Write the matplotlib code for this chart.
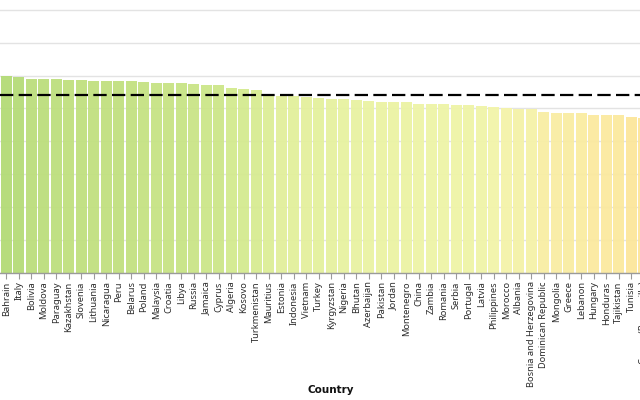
import matplotlib
matplotlib.use("Agg")
import matplotlib.pyplot as plt
from matplotlib import colors as mcolors
from matplotlib import transforms as mtransforms

countries = ["Bahrain", "Italy", "Bolivia", "Moldova", "Paraguay", "Kazakhstan", "Slovenia",
             "Lithuania", "Nicaragua", "Peru", "Belarus", "Poland", "Malaysia", "Croatia",
             "Libya", "Russia", "Jamaica", "Cyprus", "Algeria", "Kosovo", "Turkmenistan",
             "Mauritius", "Estonia", "Indonesia", "Vietnam", "Turkey", "Kyrgyzstan", "Nigeria",
             "Bhutan", "Azerbaijan", "Pakistan", "Jordan", "Montenegro", "China", "Zambia",
             "Romania", "Serbia", "Portugal", "Latvia", "Philippines", "Morocco", "Albania",
             "Bosnia and Herzegovina", "Dominican Republic", "Mongolia", "Greece", "Lebanon",
             "Hungary", "Honduras", "Tajikistan", "Tunisia", "Congo (Brazzaville)", "Ivory Coast"]
scores = [6.00, 5.97, 5.90, 5.90, 5.89, 5.86, 5.86, 5.85, 5.85, 5.85,
          5.83, 5.81, 5.79, 5.78, 5.77, 5.74, 5.71, 5.70, 5.61, 5.60,
          5.55, 5.45, 5.38, 5.37, 5.35, 5.33, 5.30, 5.28, 5.27, 5.22,
          5.21, 5.21, 5.21, 5.14, 5.13, 5.13, 5.12, 5.11, 5.09, 5.05,
          5.00, 4.98, 4.97, 4.89, 4.87, 4.86, 4.85, 4.81, 4.80, 4.79,
          4.74, 4.72, 4.70]
mean_score = 5.42

# colour scale, low score -> high score
scale_colors = ["#fde59a", "#f9eda3", "#f3f4aa", "#edf4a6", "#e3f09c", "#d4ea8f", "#c5e283", "#b3db76"]
scale_stops = [0.0, 0.12, 0.23, 0.35, 0.5, 0.69, 0.85, 1.0]

fig = plt.figure(figsize=(6.4, 4), dpi=100)
# the view is a crop of a wider chart: the axes run past the right and top edges
ax = fig.add_axes([0, 127 / 400, 662.5 / 640, 329 / 400])

cmap = mcolors.LinearSegmentedColormap.from_list("score", list(zip(scale_stops, scale_colors)))
norm = mcolors.Normalize(vmin=4.72, vmax=6.0)
bar_colors = [cmap(norm(s)) for s in scores]

x = list(range(len(countries)))
ax.bar(x, scores, width=0.9, color=bar_colors, alpha=0.95, zorder=2)
ax.axhline(mean_score, color="black", linewidth=1.6, linestyle=(0, (6, 2.4)), zorder=3)

ax.set_xlim(-0.5, len(countries) - 0.5)
ax.set_ylim(0, 10)
ax.set_yticks(range(0, 11))
ax.yaxis.grid(True, color="#e3e3e3", linewidth=1, zorder=0)
ax.set_axisbelow(True)

for side in ["top", "right", "left"]:
    ax.spines[side].set_visible(False)
ax.spines["bottom"].set_color("#9a9a9a")
ax.spines["bottom"].set_linewidth(1)

ax.set_xticks(x)
ax.set_xticklabels(countries, rotation=90, fontsize=6.7, family=["Noto Sans", "DejaVu Sans"],
                   color="#2b2b2b")
ax.tick_params(axis="x", length=4, width=0.8, color="#9a9a9a", pad=2)
ax.tick_params(axis="y", left=False, labelleft=False)

ax.set_xlabel("Country", fontsize=7.5, fontweight="bold", family=["DejaVu Sans"],
              color="#111111", va="center")
ax.xaxis.set_label_coords(0.5, 1 - 390 / 400,
                          transform=mtransforms.blended_transform_factory(ax.transAxes, fig.transFigure))

fig.savefig("out.png", dpi=100)
